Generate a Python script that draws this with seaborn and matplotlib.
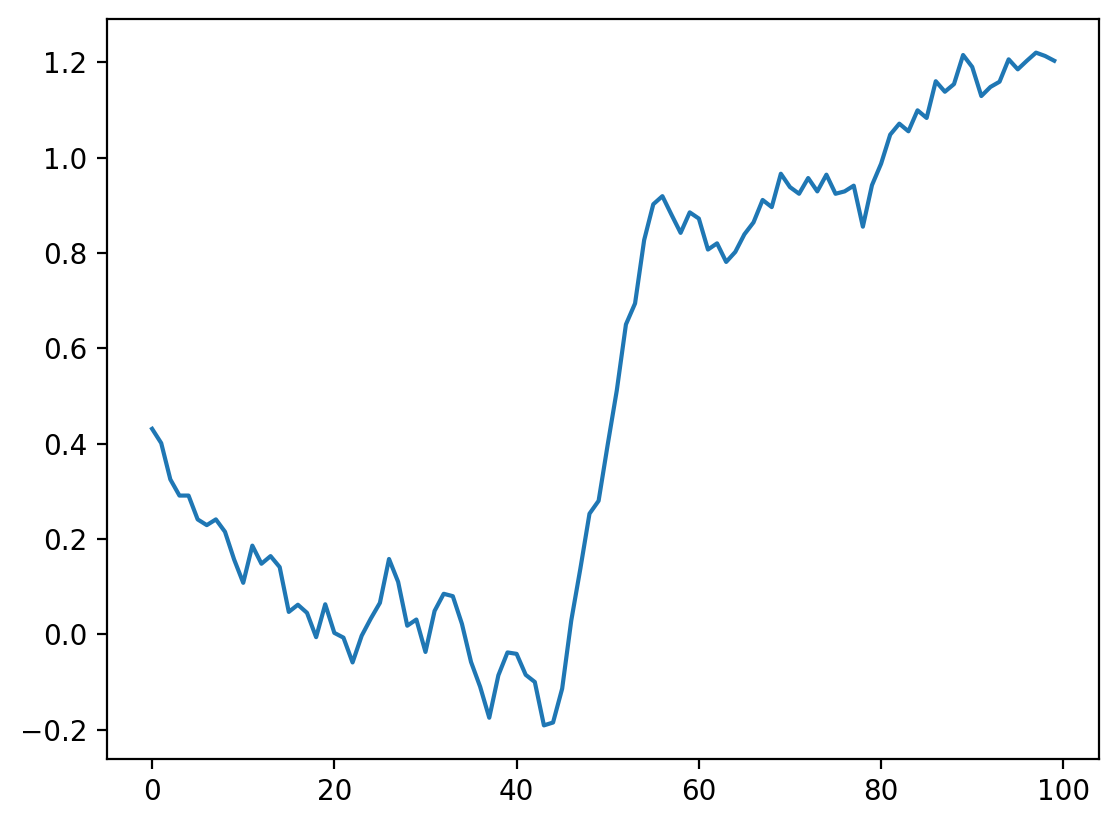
import numpy as np
import pandas as pd
import seaborn as sns
import matplotlib
matplotlib.use("Agg")
import matplotlib.pyplot as plt

# values
steps = list(range(100))
values = [
    0.431, 0.401, 0.325, 0.291, 0.291, 0.241, 0.229, 0.241, 0.215, 0.157,
    0.108, 0.186, 0.148, 0.164, 0.141, 0.047, 0.062, 0.045, -0.006, 0.063,
    0.003, -0.007, -0.059, -0.003, 0.033, 0.066, 0.158, 0.110, 0.018, 0.031,
    -0.037, 0.049, 0.085, 0.080, 0.022, -0.058, -0.110, -0.175, -0.086, -0.038,
    -0.041, -0.085, -0.100, -0.191, -0.185, -0.114, 0.029, 0.138, 0.253, 0.280,
    0.398, 0.512, 0.650, 0.694, 0.827, 0.902, 0.919, 0.880, 0.842, 0.885,
    0.872, 0.807, 0.820, 0.781, 0.802, 0.839, 0.864, 0.911, 0.896, 0.966,
    0.938, 0.924, 0.957, 0.929, 0.964, 0.924, 0.929, 0.941, 0.855, 0.942,
    0.987, 1.048, 1.071, 1.055, 1.099, 1.083, 1.160, 1.138, 1.154, 1.215,
    1.190, 1.129, 1.148, 1.159, 1.206, 1.185, 1.203, 1.220, 1.213, 1.203,
]

df = pd.DataFrame({"step": steps, "value": values})

fig = plt.figure(figsize=(5.59, 4.13), dpi=200)
ax = fig.add_axes([0.0957, 0.0811, 0.8876, 0.8959])
sns.lineplot(data=df, x="step", y="value", ax=ax, color="#1f77b4", linewidth=1.5)
ax.set_xlabel("")
ax.set_ylabel("")
ax.set_xticks([0, 20, 40, 60, 80, 100])
ax.set_yticks([-0.2, 0.0, 0.2, 0.4, 0.6, 0.8, 1.0, 1.2])

fig.savefig("out.png", dpi=200)
